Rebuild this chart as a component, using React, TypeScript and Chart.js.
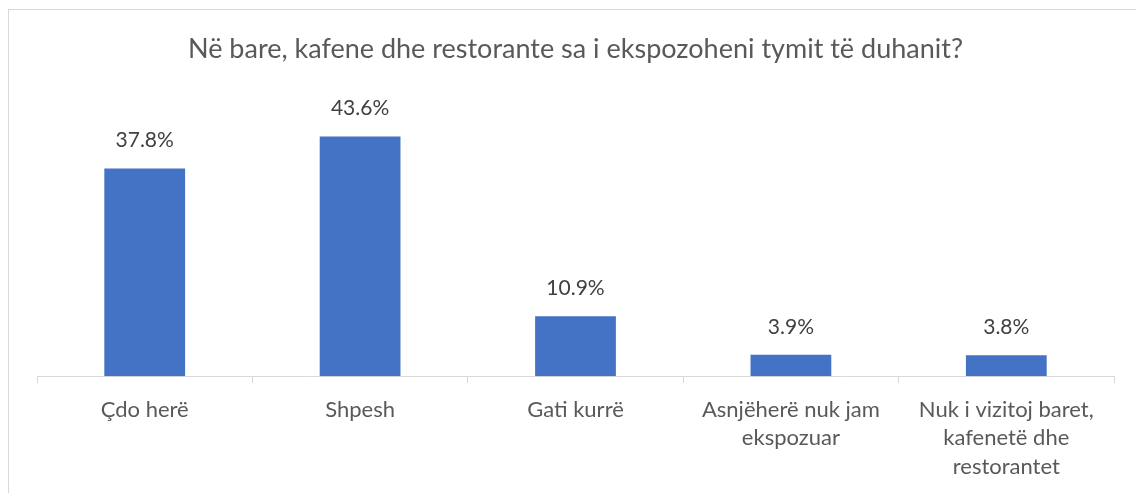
import React, { useEffect, useRef } from "react";
import { Chart, registerables } from "chart.js";

Chart.register(...registerables);

const categories: (string | string[])[] = [
  "Çdo herë",
  "Shpesh",
  "Gati kurrë",
  ["Asnjëherë nuk jam", "ekspozuar"],
  ["Nuk i vizitoj baret,", "kafenetë dhe", "restorantet"],
];
const values: number[] = [37.8, 43.6, 10.9, 3.9, 3.8];
const titleText = "Në bare, kafene dhe restorante sa i ekspozoheni tymit të duhanit?";

const FONT = "Lato";

const dataLabelPlugin = {
  id: "dataLabels",
  afterDatasetsDraw(chart: any) {
    const ctx = chart.ctx;
    const meta = chart.getDatasetMeta(0);
    ctx.save();
    ctx.font = `21px ${FONT}`;
    ctx.fillStyle = "#404040";
    ctx.textAlign = "center";
    ctx.textBaseline = "middle";
    meta.data.forEach((el: any, i: number) => {
      ctx.fillText(values[i].toFixed(1) + "%", el.x, el.y - 28);
    });
    ctx.restore();
  },
};

export default function App() {
  const ref = useRef<HTMLCanvasElement>(null);
  useEffect(() => {
    if (!ref.current) return;
    const chart = new Chart(ref.current, {
      type: "bar",
      data: {
        labels: categories,
        datasets: [
          {
            data: values,
            backgroundColor: "#4472C4",
            barPercentage: 1,
            categoryPercentage: 0.375,
          },
        ],
      },
      options: {
        responsive: false,
        animation: false,
        layout: { padding: { left: 37, right: 22, top: 0, bottom: 0 } },
        plugins: {
          legend: { display: false },
          tooltip: { enabled: false },
          title: {
            display: true,
            text: titleText,
            color: "#595959",
            font: { family: FONT, size: 27, weight: "normal" },
            padding: { top: 33, bottom: 36 },
          },
        },
        scales: {
          x: {
            grid: {
              display: true,
              drawOnChartArea: false,
              drawTicks: true,
              tickLength: 7,
              color: "#d9d9d9",
              offset: true,
            },
            border: { display: true, color: "#d9d9d9", width: 1 },
            ticks: {
              color: "#595959",
              font: { family: FONT, size: 22, lineHeight: 1.3 },
              padding: 12,
              maxRotation: 0,
              autoSkip: false,
            },
          },
          y: {
            display: false,
            min: 0,
            max: 50,
          },
        },
      },
      plugins: [dataLabelPlugin],
    });
    return () => chart.destroy();
  }, []);
  return (
    <div
      style={{
        position: "absolute",
        left: 0,
        top: 0,
        width: 1136,
        height: 493,
        overflow: "hidden",
        background: "#fff",
      }}
    >
      <div
        style={{
          position: "absolute",
          left: 8,
          top: 9,
          width: 1140,
          height: 500,
          borderTop: "1px solid #d9d9d9",
          borderLeft: "1px solid #d9d9d9",
          boxSizing: "border-box",
        }}
      />
      <canvas
        ref={ref}
        width={1136}
        height={493}
        style={{ position: "absolute", left: 0, top: 0 }}
      />
    </div>
  );
}
